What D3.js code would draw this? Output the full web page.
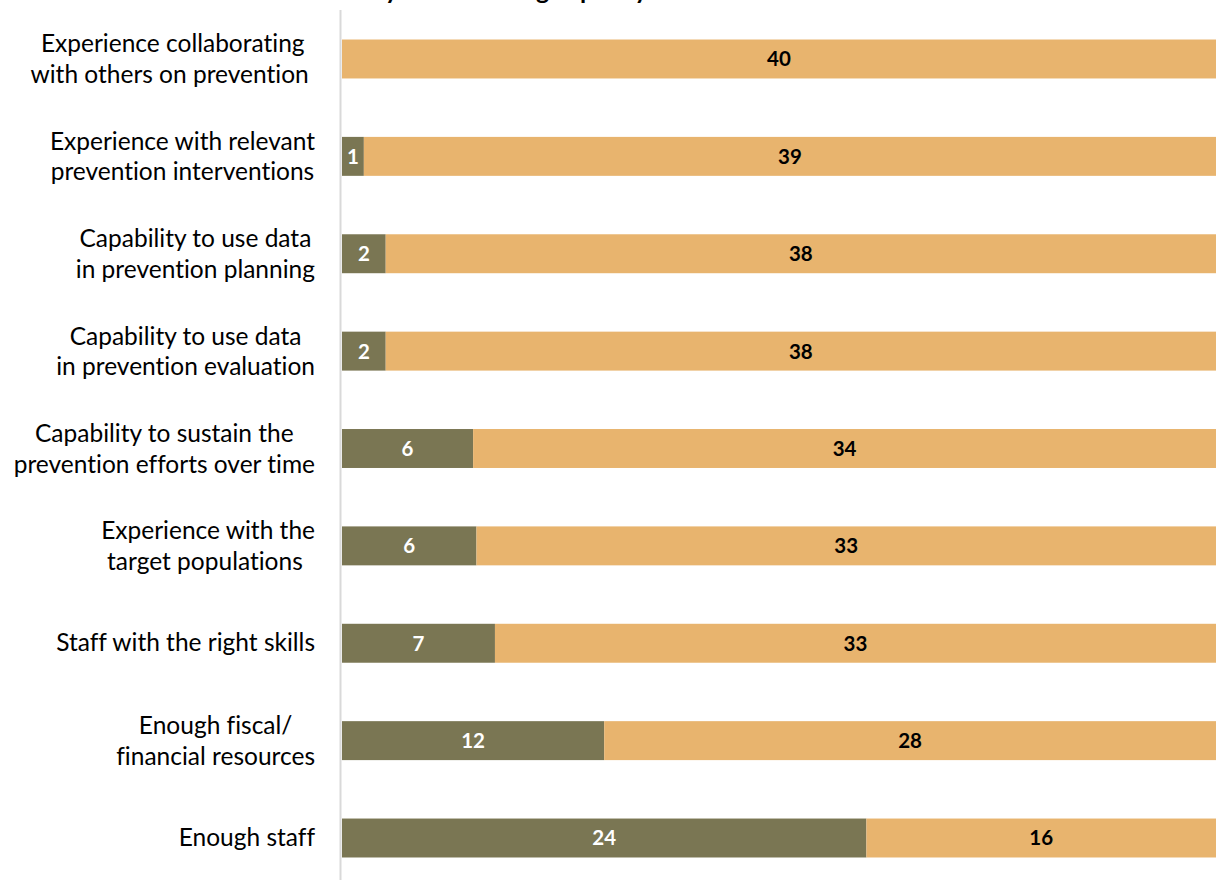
<!DOCTYPE html>
<html>
<head>
<meta charset="utf-8">
<script src="https://cdn.jsdelivr.net/npm/d3@7"></script>
<style>
  html, body { margin: 0; padding: 0; background: #ffffff; overflow: hidden; }
  svg { display: block; }
</style>
</head>
<body>
<svg id="chart" width="1217" height="880"></svg>
<script>
// Capacity areas, each label split into its display lines
const categories = [
  ["Experience collaborating", "with others on prevention "],
  ["Experience with relevant", "prevention interventions"],
  ["Capability to use data", "in prevention planning"],
  ["Capability to use data", "in prevention evaluation"],
  ["Capability to sustain the", "prevention efforts over time"],
  ["Experience with the", "target populations "],
  ["Staff with the right skills"],
  ["Enough fiscal/", "financial resources"],
  ["Enough staff"]
];
const seriesNames = ["Need", "Have"];
const needValues = [0, 1, 2, 2, 6, 6, 7, 12, 24];
const haveValues = [40, 39, 38, 38, 34, 33, 33, 28, 16];
const titleText = "Coalitions already have existing capacity";

const colors = { Need: "#7a7653", Have: "#e8b46e" };
const labelColors = { Need: "#ffffff", Have: "#000000" };

const svg = d3.select("#chart");
const W = 1217, H = 880;
const plotLeft = 342, plotRight = 1216;

const keys = categories.map((c, i) => i);
const rows = keys.map(i => ({ key: i, Need: needValues[i], Have: haveValues[i] }));

// 100% stacked layout
const stack = d3.stack().keys(seriesNames).offset(d3.stackOffsetExpand);
const layers = stack(rows);

const x = d3.scaleLinear().domain([0, 1]).range([plotLeft, plotRight]);
const y = d3.scaleBand().domain(keys).range([10.3, 886.7]).paddingInner(0.6).paddingOuter(0.3);

// Title (sits above the visible area)
const title = svg.append("text")
  .attr("y", -1)
  .attr("font-family", "Lato, 'Open Sans', sans-serif")
  .attr("font-weight", "bold")
  .attr("font-size", 25)
  .attr("fill", "#000")
  .text(titleText);
const pIndex = titleText.indexOf("capacity") + 2;
const pPos = title.node().getStartPositionOfChar(pIndex).x;
title.attr("x", 580 - pPos);

// Bars
const g = svg.append("g");
layers.forEach(layer => {
  const name = layer.key;
  g.selectAll(null)
    .data(layer)
    .join("rect")
    .attr("x", d => x(d[0]))
    .attr("y", d => y(d.data.key))
    .attr("width", d => Math.max(0, x(d[1]) - x(d[0])))
    .attr("height", y.bandwidth())
    .attr("fill", colors[name]);

  g.selectAll(null)
    .data(layer.filter(d => d.data[name] > 0))
    .join("text")
    .attr("x", d => (x(d[0]) + x(d[1])) / 2)
    .attr("y", d => y(d.data.key) + y.bandwidth() / 2)
    .attr("dy", "0.36em")
    .attr("text-anchor", "middle")
    .attr("font-family", "Lato, 'Open Sans', sans-serif")
    .attr("font-weight", "bold")
    .attr("font-size", 20.5)
    .attr("fill", labelColors[name])
    .text(d => d.data[name]);
});

// Vertical category axis line
svg.append("line")
  .attr("x1", 340.5).attr("x2", 340.5)
  .attr("y1", 10).attr("y2", H)
  .attr("stroke", "#d9d9d9")
  .attr("stroke-width", 2);

// Category labels: lines centred within a block right-aligned to the axis
const labelRight = 315;
const lineGap = 30.5;
const labelG = svg.append("g")
  .attr("font-family", "Lato, 'Open Sans', sans-serif")
  .attr("font-size", 24.5)
  .attr("fill", "#000");

categories.forEach((lines, i) => {
  const cy = y(i) + y.bandwidth() / 2;
  const texts = lines.map(l => labelG.append("text")
    .style("white-space", "pre")
    .style("font-variant-ligatures", "none")
    .attr("text-anchor", "middle")
    .text(l));
  const widths = texts.map(t => t.node().getComputedTextLength());
  const maxW = d3.max(widths);
  const cx = labelRight - maxW / 2;
  const firstBaseline = lines.length === 1 ? cy + 8 : cy - 6.5;
  texts.forEach((t, j) => {
    t.attr("x", cx).attr("y", firstBaseline + j * lineGap);
  });
});
</script>
</body>
</html>
